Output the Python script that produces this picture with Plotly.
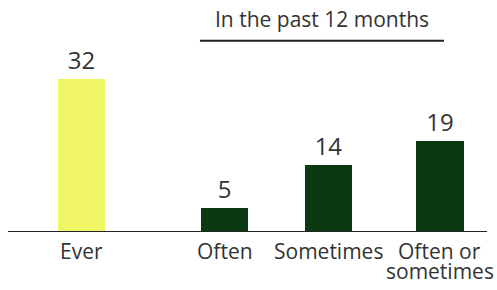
import plotly.graph_objects as go

categories = ["Ever", "Often", "Sometimes", "Often or<br>sometimes"]
values = [32, 5, 14, 19]
header = "In the past 12 months"

# layout constants (not data)
positions = [0, 1.34, 2.31, 3.35]
colors = ["#f0f565", "#0b3a12", "#0b3a12", "#0b3a12"]
text_color = "#333333"
font_family = "Open Sans"

fig = go.Figure()
fig.add_trace(go.Bar(
    x=positions, y=values, width=0.44,
    marker=dict(color=colors, line=dict(width=0)),
    text=[str(v) for v in values], textposition="outside",
    textfont=dict(size=24, color=text_color, family=font_family),
    cliponaxis=False,
))

fig.update_layout(
    width=497, height=290,
    margin=dict(l=0, r=0, t=0, b=58, autoexpand=False),
    paper_bgcolor="white", plot_bgcolor="white",
    showlegend=False,
    xaxis=dict(range=[-0.7617, 3.883], showticklabels=False, automargin=False,
               showgrid=False, zeroline=False, showline=False, ticks=""),
    yaxis=dict(range=[0, 48.5], visible=False, automargin=False),
    bargap=0,
)

# category labels (each line placed separately for tight leading)
for xpos, label in zip(positions, categories):
    for i, line in enumerate(label.split("<br>")):
        fig.add_annotation(x=xpos, y=0, xref="x", yref="y", text=line,
                           showarrow=False, yanchor="middle",
                           yshift=-19 - 20 * i,
                           font=dict(size=21, color=text_color, family=font_family))

# baseline
fig.add_shape(type="line", xref="x", yref="y", x0=-0.687, x1=3.79, y0=0, y1=0,
              line=dict(color="#222222", width=2))
# header rule
fig.add_shape(type="line", xref="x", yref="y", x0=1.107, x1=3.388, y0=40, y1=40,
              line=dict(color="#222222", width=2))
fig.add_annotation(x=(1.107 + 3.388) / 2, y=40, xref="x", yref="y", text=header,
                   showarrow=False, yanchor="middle", yshift=22,
                   font=dict(size=21, color=text_color, family=font_family))

fig.write_html("out.html", config={"displayModeBar": False},
               post_script="document.body.style.margin='0';")
